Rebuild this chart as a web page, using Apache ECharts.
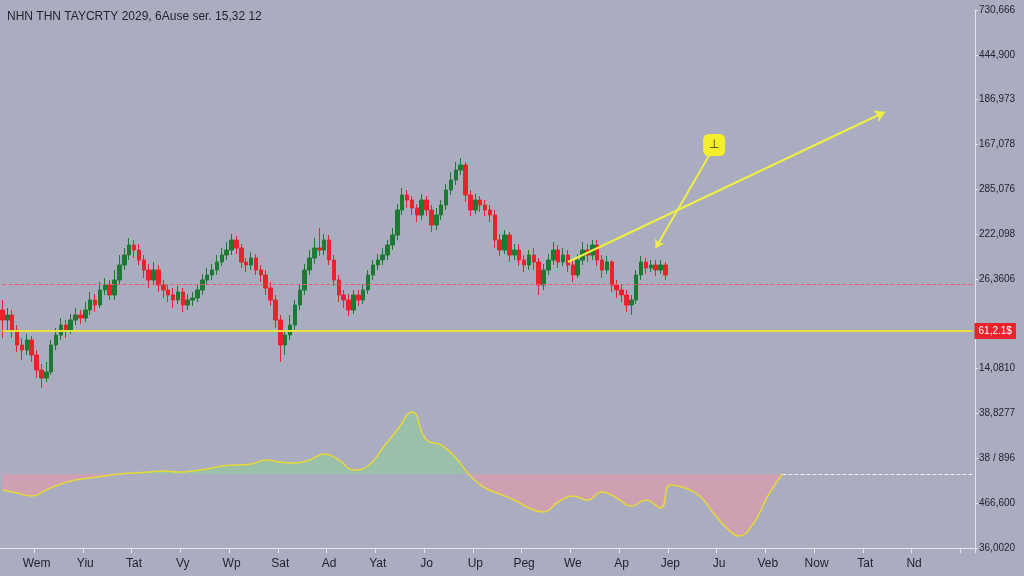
<!DOCTYPE html>
<html><head><meta charset="utf-8">
<script src="https://cdn.jsdelivr.net/npm/echarts@6/dist/echarts.min.js"></script>
<style>html,body{margin:0;background:#a9adbf}#c{width:1024px;height:576px}</style>
</head><body><div id="c"></div>
<script>
var myChart = echarts.init(document.getElementById('c'));

var xLabels = ['Wem','Yiu','Tat','Vy','Wp','Sat','Ad','Yat','Jo','Up','Peg','We','Ap','Jep','Ju','Veb','Now','Tat','Nd'];
var yLabels = ['730,666','444,900','186,973','167,078','285,076','222,098','26,3606','','14,0810','38,8277','38 / 896','466,600','36,0020'];
// [open, close, low, high]
var candles = [
[290,280,262,300],[280,285,270,292],[285,270,262,290],[270,255,248,275],[255,250,240,262],[250,260,245,266],[260,245,238,264],[245,230,222,250],[230,222,212,236],[222,228,218,238],
[228,255,225,260],[255,265,250,272],[265,275,260,282],[275,270,262,280],[270,280,266,286],[280,285,275,292],[285,282,276,290],[282,290,278,298],[290,300,285,308],[300,295,288,306],
[295,310,292,318],[310,315,305,322],[315,305,300,320],[305,320,300,330],[320,335,316,345],[335,345,330,352],[345,355,340,362],[355,350,342,360],[350,340,335,356],[340,330,322,345],
[330,320,312,336],[320,330,315,338],[330,315,308,335],[315,310,302,320],[310,305,298,316],[305,300,292,312],[300,308,296,314],[308,295,288,312],[295,300,290,306],[300,302,294,308],
[302,310,298,316],[310,320,305,326],[320,325,315,332],[325,330,320,336],[330,338,325,345],[338,345,334,352],[345,350,340,358],[350,360,345,366],[360,352,346,364],[352,338,332,356],
[338,335,328,342],[335,342,330,348],[342,330,325,346],[330,325,318,335],[325,312,305,330],[312,300,294,318],[300,280,272,305],[280,255,238,285],[255,265,245,270],[265,275,260,285],
[275,295,270,300],[295,310,290,315],[310,330,305,336],[330,342,325,350],[342,352,336,362],[352,350,344,372],[350,360,345,366],[360,340,335,365],[340,320,314,345],[320,305,298,325],
[305,300,292,310],[300,290,284,306],[290,305,286,310],[305,300,294,310],[300,310,296,316],[310,325,306,330],[325,335,320,340],[335,340,330,346],[340,345,335,352],[345,355,340,360],
[355,365,350,372],[365,390,360,396],[390,405,385,412],[405,400,392,410],[400,392,385,404],[392,385,378,396],[385,400,380,406],[400,390,384,404],[390,375,368,395],[375,385,370,392],
[385,395,380,400],[395,410,390,416],[410,420,405,428],[420,430,415,438],[430,435,425,442],[435,405,398,438],[405,390,384,410],[390,400,386,406],[400,395,388,404],[395,390,384,400],
[390,385,378,395],[385,360,352,390],[360,350,344,366],[350,365,346,370],[365,345,338,368],[345,350,340,356],[350,340,334,356],[340,335,328,345],[335,345,330,350],[345,338,330,352],
[338,315,305,342],[315,330,310,336],[330,340,325,346],[340,350,335,358],[350,338,332,355],[338,345,334,352],[345,335,328,350],[335,325,318,340],[325,340,322,346],[340,350,335,358],
[350,345,338,356],[345,355,340,360],[355,340,334,360],[340,330,322,345],[330,338,326,344],[338,315,308,340],[315,310,302,320],[310,305,298,316],[305,295,288,310],[295,300,285,305],
[300,325,296,330],[325,338,320,344],[338,332,326,342],[332,335,328,340],[335,330,324,340],[330,335,326,340],[335,325,320,338]
];
var oscIdx = [0,3,6,9,12,15,18,21,24,27,30,33,36,39,42,45,48,51,54,57,60,63,66,69,72,75,78,81,84,87,90,93,96,99,102,105,108,111,114,117,120,123,126,129,132,135,137,140,143,146,149,151,154,157,160];
var oscVal = [110,107,104,110,116,120,122,124,126,127,128,129,128,129,131,134,135,136,140,138,137,140,146,140,130,134,152,170,188,160,155,142,124,112,106,100,92,88,98,104,100,108,102,94,100,92,115,112,104,86,70,64,76,104,126];
var oscBase = 126;
var supportLevel = 269, redLevel = 316;

var cats = [];
for (var i = 0; i < 200; i++) cats.push(i);
var osc = oscIdx.map(function (k, j) { return [k, oscVal[j]]; });
var oscUp = oscIdx.map(function (k, j) { return [k, Math.max(oscVal[j], oscBase)]; });
var oscDn = oscIdx.map(function (k, j) { return [k, Math.min(oscVal[j], oscBase)]; });

var option = {
  backgroundColor: '#a9adbf',
  animation: false,
  title: { text: 'NHN THN TAYCRTY 2029, 6Ause ser. 15,32 12', left: 2, top: 6,
    textStyle: { fontSize: 12, fontWeight: 'normal', color: '#23252e', fontFamily: 'Liberation Sans' } },
  grid: { left: 0, right: 49, top: 10, bottom: 28 },
  xAxis: {
    type: 'category', data: cats, boundaryGap: true,
    axisLine: { lineStyle: { color: '#e4e6ee' } },
    axisTick: { show: true, interval: function (i) { return i % 10 === 7; }, lineStyle: { color: '#e4e6ee' } },
    axisLabel: { interval: function (i) { return i % 10 === 7; }, color: '#23252e', fontSize: 12, margin: 10,
      formatter: function (v, i) { return xLabels[Math.floor(i / 10)] || ''; } },
    splitLine: { show: false }
  },
  yAxis: [{
    type: 'value', position: 'right', min: 0, max: 12, interval: 1,
    axisLine: { show: true, lineStyle: { color: '#e4e6ee' } },
    axisTick: { show: true, length: 3, lineStyle: { color: '#e4e6ee' } },
    axisLabel: { color: '#23252e', fontSize: 10, margin: 4, formatter: function (v) { return yLabels[12 - v]; } },
    splitLine: { show: false }
  }, {
    type: 'value', min: 52, max: 590, show: false, splitLine: { show: false }
  }],
  series: [{
    type: 'candlestick', yAxisIndex: 1, data: candles, barWidth: 4,
    itemStyle: { color: '#1d7a33', color0: '#e8232b', borderColor: '#1d7a33', borderColor0: '#e8232b' },
    markLine: {
      symbol: ['none', 'none'], silent: true,
      data: [
        [{ coord: [0, supportLevel], lineStyle: { color: '#e8e23a', width: 2, type: 'solid' },
           label: { show: true, position: 'end', formatter: '61,2.1$', color: '#fff', backgroundColor: '#e8232b', padding: [3, 4], fontSize: 10, distance: 2 } },
         { coord: [199, supportLevel] }],
        [{ coord: [0, redLevel], lineStyle: { color: '#e06070', width: 1, type: 'dashed' }, label: { show: false } },
         { coord: [199, redLevel] }],
        [{ coord: [160, oscBase], lineStyle: { color: '#f2f2f6', width: 1, type: 'dashed' }, label: { show: false } },
         { coord: [199, oscBase] }],
        [{ coord: [116, 338], symbol: 'none', lineStyle: { color: '#eeee44', width: 2, type: 'solid', curveness: 0.08 }, label: { show: false } },
         { coord: [181, 488], symbol: 'arrow', symbolSize: 10 }],
        [{ coord: [145, 445], symbol: 'none', lineStyle: { color: '#eeee44', width: 2, type: 'solid' }, label: { show: false } },
         { coord: [133.5, 352], symbol: 'arrow', symbolSize: 8 }]
      ]
    },
    markPoint: {
      data: [{ coord: [145.8, 455], symbol: 'roundRect', symbolSize: [22, 22],
        itemStyle: { color: '#f5ee2c' }, label: { show: true, formatter: '⊥', color: '#333', fontSize: 12 } }]
    }
  }, {
    type: 'line', yAxisIndex: 1, data: oscUp, showSymbol: false, smooth: true, lineStyle: { width: 0 },
    areaStyle: { origin: oscBase, color: 'rgba(140,210,150,0.75)' }
  }, {
    type: 'line', yAxisIndex: 1, data: oscDn, showSymbol: false, smooth: true, lineStyle: { width: 0 },
    areaStyle: { origin: oscBase, color: 'rgba(238,150,165,0.8)' }
  }, {
    type: 'line', yAxisIndex: 1, data: osc, showSymbol: false, smooth: true,
    lineStyle: { color: '#e6d83a', width: 1.5 }
  }]
};
myChart.setOption(option);
</script></body></html>
